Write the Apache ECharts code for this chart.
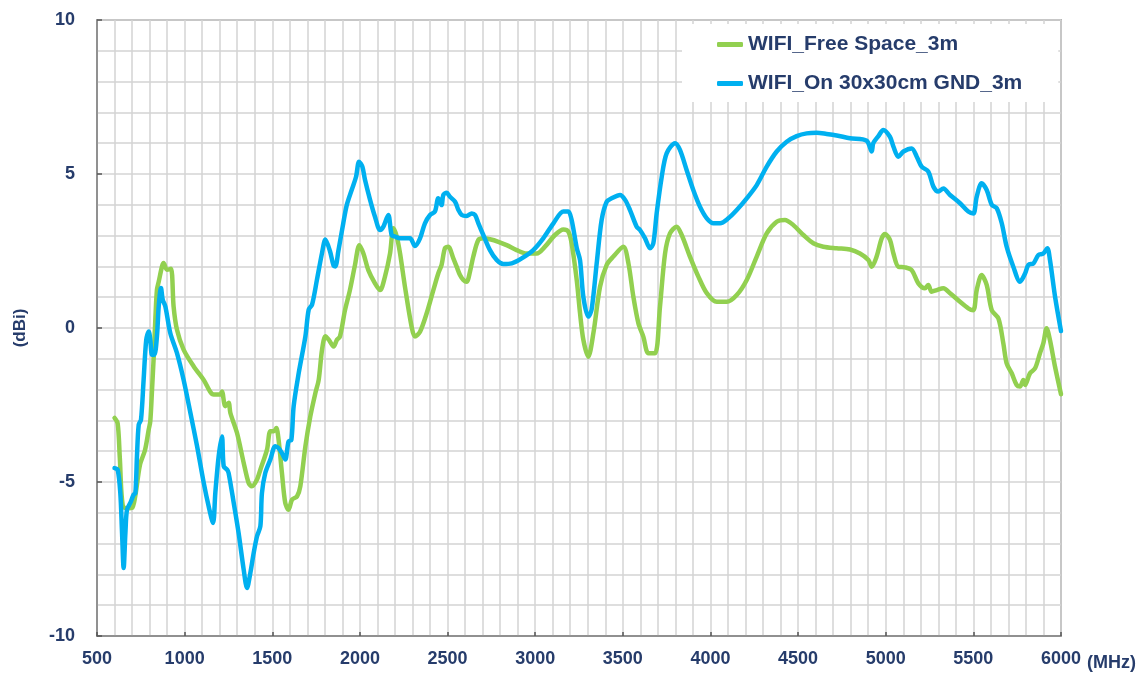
<!DOCTYPE html>
<html>
<head>
<meta charset="utf-8">
<script src="https://cdn.jsdelivr.net/npm/echarts@6/dist/echarts.min.js"></script>
<style>html,body{margin:0;padding:0;background:#fff}#c{width:1144px;height:675px}</style>
</head>
<body>
<div id="c"></div>
<script>
var seriesNames = ['WIFI_Free Space_3m', 'WIFI_On 30x30cm GND_3m'];
var xTicks = [500, 6000, 500];   // min, max, interval (MHz)
var yTicks = [-10, 10, 5];       // min, max, interval (dBi)

var freeSpace = [
[600,-2.92],[618,-3.1],[630,-4.2],[648,-5.8],[680,-5.85],[700,-5.84],[717,-5.5],[745,-4.45],[774,-3.96],[795,-3.3],[804,-3.03],[814,-2.0],[823,-1.0],[833,0.3],[842,1.24],[852,1.5],[871,2.0],[880,2.11],[899,1.89],[922,1.92],[937,0.7],[956,-0.05],[994,-0.7],[1051,-1.24],[1108,-1.68],[1166,-2.16],[1204,-2.16],[1213,-2.06],[1232,-2.54],[1251,-2.43],[1261,-2.76],[1299,-3.41],[1337,-4.38],[1365,-5.03],[1384,-5.14],[1413,-4.92],[1432,-4.6],[1470,-3.95],[1489,-3.35],[1510,-3.35],[1523,-3.25],[1536,-3.63],[1555,-4.7],[1574,-5.68],[1593,-5.9],[1613,-5.57],[1641,-5.47],[1660,-5.14],[1689,-3.84],[1717,-2.87],[1746,-2.11],[1765,-1.68],[1784,-0.7],[1803,-0.27],[1822,-0.38],[1850,-0.6],[1869,-0.38],[1886,-0.28],[1915,0.58],[1943,1.23],[1972,2.05],[1997,2.69],[2020,2.42],[2048,1.88],[2086,1.45],[2115,1.23],[2143,1.67],[2172,2.42],[2191,3.24],[2210,2.97],[2229,2.42],[2257,1.34],[2295,0.04],[2314,-0.28],[2343,-0.12],[2381,0.48],[2419,1.23],[2447,1.77],[2466,2.05],[2485,2.59],[2504,2.64],[2533,2.26],[2552,1.99],[2571,1.72],[2590,1.56],[2609,1.5],[2628,1.83],[2647,2.32],[2676,2.86],[2704,2.91],[2742,2.88],[2790,2.8],[2837,2.69],[2894,2.53],[2951,2.42],[3009,2.42],[3056,2.64],[3113,3.02],[3161,3.2],[3189,3.13],[3208,2.75],[3237,1.56],[3256,0.48],[3275,-0.39],[3303,-0.93],[3332,-0.17],[3370,1.34],[3408,2.05],[3446,2.32],[3503,2.64],[3532,2.1],[3560,1.02],[3589,0.15],[3617,-0.28],[3646,-0.82],[3684,-0.82],[3712,0.69],[3741,2.42],[3769,3.07],[3807,3.29],[3836,3.02],[3883,2.32],[3931,1.67],[3979,1.13],[4036,0.85],[4093,0.85],[4150,1.07],[4207,1.56],[4264,2.32],[4321,3.07],[4378,3.45],[4425,3.51],[4473,3.34],[4530,3.02],[4587,2.75],[4644,2.64],[4720,2.59],[4796,2.55],[4853,2.42],[4901,2.21],[4920,1.99],[4948,2.32],[4977,2.91],[4996,3.05],[5024,2.86],[5044,2.42],[5072,1.99],[5110,1.97],[5148,1.88],[5186,1.45],[5224,1.29],[5243,1.4],[5262,1.18],[5291,1.23],[5329,1.29],[5367,1.13],[5424,0.85],[5471,0.64],[5500,0.58],[5519,1.23],[5547,1.72],[5576,1.4],[5605,0.58],[5643,0.31],[5671,-0.5],[5690,-1.15],[5719,-1.47],[5747,-1.85],[5766,-1.9],[5785,-1.69],[5795,-1.85],[5823,-1.47],[5852,-1.31],[5880,-0.82],[5899,-0.5],[5918,-0.01],[5937,-0.39],[5966,-1.26],[6000,-2.15]
];

var onGnd = [
[600,-4.55],[618,-4.6],[633,-5.36],[643,-6.66],[652,-7.79],[662,-6.66],[671,-5.9],[690,-5.68],[709,-5.41],[719,-5.36],[728,-4.17],[738,-3.14],[751,-2.98],[766,-1.68],[781,-0.38],[795,-0.11],[804,-0.38],[814,-0.87],[827,-0.87],[842,-0.27],[852,0.7],[865,1.3],[875,0.92],[890,0.7],[918,-0.16],[956,-0.81],[994,-1.68],[1033,-2.76],[1071,-3.84],[1109,-5.03],[1137,-5.79],[1162,-6.33],[1175,-5.36],[1194,-4.17],[1213,-3.52],[1223,-4.49],[1242,-4.6],[1251,-4.71],[1280,-5.68],[1308,-6.66],[1337,-7.85],[1356,-8.44],[1375,-7.95],[1394,-7.3],[1413,-6.76],[1432,-6.44],[1441,-5.36],[1460,-4.71],[1489,-4.27],[1517,-3.84],[1536,-3.9],[1555,-4.06],[1574,-4.27],[1593,-3.68],[1609,-3.63],[1622,-2.54],[1651,-1.46],[1689,-0.27],[1708,0.6],[1727,0.76],[1755,1.57],[1784,2.44],[1803,2.87],[1829,2.5],[1850,2.02],[1860,2.0],[1877,2.5],[1905,3.4],[1925,3.99],[1953,4.48],[1978,4.91],[1995,5.4],[2014,5.24],[2029,4.81],[2058,4.16],[2086,3.61],[2115,3.18],[2134,3.29],[2162,3.67],[2181,3.02],[2200,2.97],[2229,2.91],[2286,2.91],[2314,2.66],[2343,2.91],[2371,3.4],[2400,3.67],[2428,3.78],[2447,4.21],[2466,3.99],[2476,4.32],[2495,4.39],[2514,4.26],[2543,4.1],[2562,3.83],[2581,3.67],[2609,3.64],[2638,3.72],[2657,3.67],[2676,3.4],[2704,3.02],[2742,2.53],[2780,2.21],[2818,2.08],[2866,2.1],[2923,2.26],[2989,2.53],[3046,2.91],[3104,3.4],[3161,3.78],[3189,3.78],[3208,3.51],[3237,2.6],[3256,2.2],[3275,1.0],[3303,0.37],[3322,0.6],[3351,2.1],[3379,3.5],[3408,4.1],[3436,4.21],[3484,4.32],[3513,4.16],[3541,3.83],[3579,3.29],[3598,3.18],[3627,2.91],[3655,2.59],[3674,2.75],[3693,3.72],[3722,4.91],[3750,5.67],[3798,6.0],[3826,5.78],[3864,5.13],[3902,4.48],[3940,3.94],[3979,3.56],[4017,3.4],[4055,3.4],[4102,3.56],[4150,3.83],[4207,4.21],[4264,4.64],[4321,5.24],[4378,5.73],[4435,6.05],[4492,6.23],[4549,6.32],[4606,6.34],[4663,6.3],[4720,6.25],[4796,6.16],[4891,6.08],[4920,5.73],[4929,6.0],[4958,6.23],[4986,6.43],[5024,6.21],[5044,5.89],[5072,5.56],[5101,5.73],[5148,5.83],[5177,5.56],[5205,5.24],[5243,5.08],[5272,4.59],[5300,4.43],[5329,4.53],[5367,4.32],[5424,4.05],[5471,3.78],[5500,3.72],[5519,4.26],[5547,4.7],[5576,4.48],[5605,4.0],[5633,3.89],[5662,3.4],[5690,2.64],[5728,1.99],[5766,1.5],[5795,1.77],[5814,2.05],[5843,2.1],[5871,2.37],[5899,2.42],[5922,2.59],[5937,2.21],[5966,1.02],[6000,-0.1]
];

var textColor = '#263c6b';
var font = '"Liberation Sans", Arial, sans-serif';
var gridColor = '#d4d4d4';
var axisColor = '#7f7f7f';

var chart = echarts.init(document.getElementById('c'), null, {renderer: 'canvas'});
chart.setOption({
  animation: false,
  backgroundColor: '#ffffff',
  grid: {left: 97, right: 83, top: 20, bottom: 39, show: true, borderColor: axisColor, borderWidth: 1.5, backgroundColor: 'transparent'},
  legend: {
    orient: 'vertical', left: 682, top: 24,
    padding: [10, 36, 8, 35], itemGap: 18,
    backgroundColor: '#ffffff',
    itemWidth: 26, itemHeight: 5,
    icon: 'roundRect',
    textStyle: {color: textColor, fontFamily: font, fontWeight: 'bold', fontSize: 21},
    data: seriesNames
  },
  xAxis: {
    type: 'value', min: xTicks[0], max: xTicks[1], interval: xTicks[2],
    name: '(MHz)', nameLocation: 'end', nameGap: 8,
    nameTextStyle: {color: textColor, fontFamily: font, fontWeight: 'bold', fontSize: 18, verticalAlign: 'top', align: 'left', padding: [18, 0, 0, 0]},
    axisLine: {show: true, onZero: false, lineStyle: {color: axisColor, width: 1.5}},
    axisTick: {show: true, inside: true, length: 4, lineStyle: {color: '#555', width: 1.5}},
    axisLabel: {color: textColor, fontFamily: font, fontWeight: 'bold', fontSize: 18, margin: 14,
      formatter: function (v) { return String(v); }},
    splitLine: {show: true, lineStyle: {color: gridColor, width: 1.5}},
    minorTick: {show: false, splitNumber: 5},
    minorSplitLine: {show: true, lineStyle: {color: gridColor, width: 1.5}}
  },
  yAxis: {
    type: 'value', min: yTicks[0], max: yTicks[1], interval: yTicks[2],
    name: '(dBi)', nameLocation: 'middle', nameGap: 68, nameRotate: 90,
    nameTextStyle: {color: textColor, fontFamily: font, fontWeight: 'bold', fontSize: 17},
    axisLine: {show: true, onZero: false, lineStyle: {color: axisColor, width: 1.5}},
    axisTick: {show: true, inside: true, length: 5, lineStyle: {color: '#555', width: 1.5}},
    axisLabel: {color: textColor, fontFamily: font, fontWeight: 'bold', fontSize: 18, margin: 22,
      formatter: function (v) { return String(v); }},
    splitLine: {show: true, lineStyle: {color: gridColor, width: 1.5}},
    minorTick: {show: false, splitNumber: 5},
    minorSplitLine: {show: true, lineStyle: {color: gridColor, width: 1.5}}
  },
  series: [
    {name: seriesNames[0], type: 'line', data: freeSpace, showSymbol: false, smooth: 0.3,
     lineStyle: {color: '#92d050', width: 4.5, cap: 'round', join: 'round'}, itemStyle: {color: '#92d050'}},
    {name: seriesNames[1], type: 'line', data: onGnd, showSymbol: false, smooth: 0.3,
     lineStyle: {color: '#00b0f0', width: 4.5, cap: 'round', join: 'round'}, itemStyle: {color: '#00b0f0'}}
  ]
});
</script>
</body>
</html>
